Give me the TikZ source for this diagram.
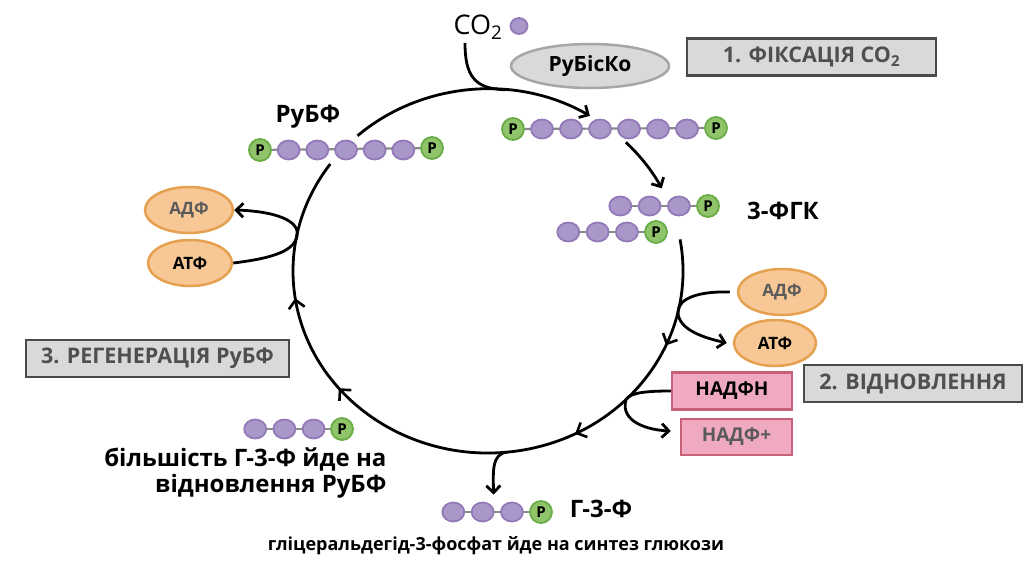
\documentclass[tikz,border=0pt]{standalone}
\usepackage{fontspec}
\setmainfont{Open Sans}
\usepackage{tikz}
\usetikzlibrary{arrows.meta,positioning,shapes.geometric,calc,backgrounds,decorations.markings}
\definecolor{beadfill}{RGB}{168,151,200}
\definecolor{beaddraw}{RGB}{148,121,184}
\definecolor{phosfill}{RGB}{143,196,106}
\definecolor{phosdraw}{RGB}{106,173,71}
\definecolor{linkgray}{RGB}{138,138,138}
\definecolor{orfill}{RGB}{247,200,150}
\definecolor{ordraw}{RGB}{229,160,80}
\definecolor{pinkfill}{RGB}{239,170,193}
\definecolor{pinkdraw}{RGB}{201,96,122}
\definecolor{stagefill}{RGB}{217,217,217}
\definecolor{stagedraw}{RGB}{74,74,74}
\definecolor{stagetext}{RGB}{79,79,79}
\definecolor{enzdraw}{RGB}{166,166,166}
\definecolor{softtext}{RGB}{90,90,90}
\tikzset{
  % carbon atom
  bead/.style={ellipse, draw=beaddraw, fill=beadfill, line width=1.8pt,
    minimum width=22pt, minimum height=19pt, inner sep=0pt},
  % phosphate group
  phos/.style={circle, draw=phosdraw, fill=phosfill, line width=1.8pt,
    minimum size=22pt, inner sep=0pt, text=black,
    font=\fontsize{15}{15}\selectfont\bfseries},
  % bond line
  link/.style={linkgray, line width=2.2pt},
  % stage boxes
  stagebox/.style={draw=stagedraw, fill=stagefill, line width=2.8pt,
    text=stagetext, minimum height=37pt, inner sep=0pt,
    font=\fontsize{21.5}{21.5}\selectfont\bfseries},
  % ATP / ADP
  ener/.style={ellipse, draw=ordraw, fill=orfill, line width=2.5pt,
    minimum width=86pt, minimum height=46pt, inner sep=0pt,
    font=\fontsize{17}{17}\selectfont\bfseries},
  % NADPH / NADP+
  nadp/.style={draw=pinkdraw, fill=pinkfill, line width=2.5pt,
    minimum height=37pt, inner sep=0pt,
    font=\fontsize{19}{19}\selectfont\bfseries},
  % labels
  lbl/.style={font=\fontsize{24}{26}\selectfont\bfseries},
  % arrows
  arr/.style={-{Straight Barb[length=7pt,width=14pt]}, line width=2.8pt},
  cyc/.style={line width=2.8pt, postaction={decorate}, decoration={markings,
    mark=at position 0.147 with {\arrow[line width=2.6pt]{Straight Barb[length=8pt,width=16pt]}},
    mark=at position 0.322 with {\arrow[line width=2.6pt]{Straight Barb[length=8pt,width=16pt]}},
    mark=at position 0.670 with {\arrow[line width=2.6pt]{Straight Barb[length=8pt,width=16pt]}},
    mark=at position 0.807 with {\arrow[line width=2.6pt]{Straight Barb[length=8pt,width=16pt]}}}},
}

\begin{document}
\begin{tikzpicture}[x=1pt,y=-1pt]
    \useasboundingbox (0,0) rectangle (1024,576);

    % Stage boxes
    \node[stagebox, minimum width=249pt] (fix) at (811.5,57) {1. ФІКСАЦІЯ CO\textsubscript{2}};
    \node[stagebox, minimum width=218pt] (red) at (913,383.5) {2. ВІДНОВЛЕННЯ};
    \node[stagebox, minimum width=263pt] (reg) at (157.5,358.5) {3. РЕГЕНЕРАЦІЯ РуБФ};

    % Enzyme and CO2
    \node[ellipse, draw=enzdraw, fill=stagefill, line width=2.5pt, minimum width=158pt,
          minimum height=44pt, inner sep=0pt, font=\fontsize{21}{21}\selectfont\bfseries] (rubisco) at (590,66) {РуБісКо};
    \node[font=\fontsize{27}{27}\selectfont] (co2) at (478,27) {CO\textsubscript{2}};
    \node[bead, minimum width=17pt, minimum height=16pt] (co2dot) at (519,26) {};

    % RuBP chain
    \node[phos] (rubp-0) at (260,150) {P};
    \foreach \i in {1,...,5}
        \node[bead] (rubp-\i) at ({260+28.67*\i},150) {};
    \node[phos] (rubp-6) at (432,148) {P};
    \node[lbl] (rubplbl) at (308,117) {РуБФ};

    % six carbon chain
    \node[phos] (six-0) at (513,129) {P};
    \foreach \i in {1,...,6}
        \node[bead] (six-\i) at ({513+29*\i},129) {};
    \node[phos] (six-7) at (716,128) {P};

    % 3-PGA chains
    \foreach \i in {1,2,3} {
        \node[bead] (pgaa-\i) at ({591+29.3*\i},206) {};
        \node[bead] (pgab-\i) at ({539+29.3*\i},232) {};
    }
    \node[phos] (pgaa-4) at (708,206) {P};
    \node[phos] (pgab-4) at (656,232) {P};
    \node[lbl] (pgalbl) at (783,211) {3-ФГК};

    % G3P chains
    \foreach \i in {1,2,3} {
        \node[bead] (g3pl-\i) at ({226+29.2*\i},429) {};
        \node[bead] (g3p-\i) at ({424+29.3*\i},512) {};
    }
    \node[phos] (g3pl-4) at (342,429) {P};
    \node[phos] (g3p-4) at (541,512) {P};
    \node[lbl] (g3plbl) at (601,509) {Г-3-Ф};
    \node[lbl, align=right, anchor=east] (mostlbl) at (390,473) {більшість Г-3-Ф йде на\\відновлення РуБФ};
    \node[font=\fontsize{18}{18}\selectfont\bfseries] (glulbl) at (496,546) {гліцеральдегід-3-фосфат йде на синтез глюкози};

    % bonds
    \begin{scope}[on background layer]
        \draw[link] (rubp-0) -- (rubp-6);
        \draw[link] (six-0) -- (six-7);
        \draw[link] (pgaa-1) -- (pgaa-4);
        \draw[link] (pgab-1) -- (pgab-4);
        \draw[link] (g3pl-1) -- (g3pl-4);
        \draw[link] (g3p-1) -- (g3p-4);
    \end{scope}

    % ATP, ADP, NADPH, NADP+
    \node[ener, text=softtext, minimum width=88pt] (adfl) at (189,210) {АДФ};
    \node[ener, minimum width=84pt] (atfl) at (190,263) {АТФ};
    \node[ener, text=softtext, minimum width=88pt] (adfr) at (782,292) {АДФ};
    \node[ener, minimum width=82pt] (atfr) at (775,343) {АТФ};
    \node[nadp, minimum width=120pt] (nadph) at (732,391) {НАДФН};
    \node[nadp, text=softtext, minimum width=111pt, minimum height=36pt] (nadpp) at (736.5,437) {НАДФ+};

    % Calvin cycle
    \coordinate (c) at (488,271);
    \path (c) ++(-132:195 and 182) coordinate (topS);
    \path (c) ++(-85:195 and 182) coordinate (topJ);
    \path (c) ++(-45:195 and 182) coordinate (sixS);
    \path (c) ++(-10:195 and 182) coordinate (rightS);
    \path (c) ++(13:195 and 182) coordinate (jR);
    \path (c) ++(45:195 and 182) coordinate (jN);
    \path (c) ++(84.4:195 and 182) coordinate (jG);
    \path (c) ++(192:195 and 182) coordinate (jL);

    \draw[arr] (topS) arc[start angle=-132, end angle=-58.5, x radius=195, y radius=182];
    \draw[line width=2.8pt] ([xshift=-13pt]co2.south) .. controls (465,75) and (474,89) .. (topJ);
    \draw[arr] (sixS) arc[start angle=-45, end angle=-27, x radius=195, y radius=182];
    \draw[cyc] (rightS) arc[start angle=-10, end angle=216, x radius=195, y radius=182];

    % side reactions
    \draw[arr] (atfl.east) .. controls (275,258) and (297,250) .. (jL)
        .. controls (297,218) and (268,211) .. (adfl.east);
    \draw[arr] ([xshift=-7pt]adfr.west) .. controls (700,291) and (678,298) .. (jR)
        .. controls (678,330) and (705,338) .. ([xshift=-6pt]atfr.west);
    \draw[arr] (nadph.west) .. controls (650,391) and (630,392) .. (jN)
        .. controls (620,422) and (648,430) .. ([xshift=-9pt,yshift=6pt]nadpp.west);
    \draw[arr] (jG) .. controls (492,454) and (493,470) .. ([xshift=11pt,yshift=7pt]g3p-2.north);
\end{tikzpicture}
\end{document}
